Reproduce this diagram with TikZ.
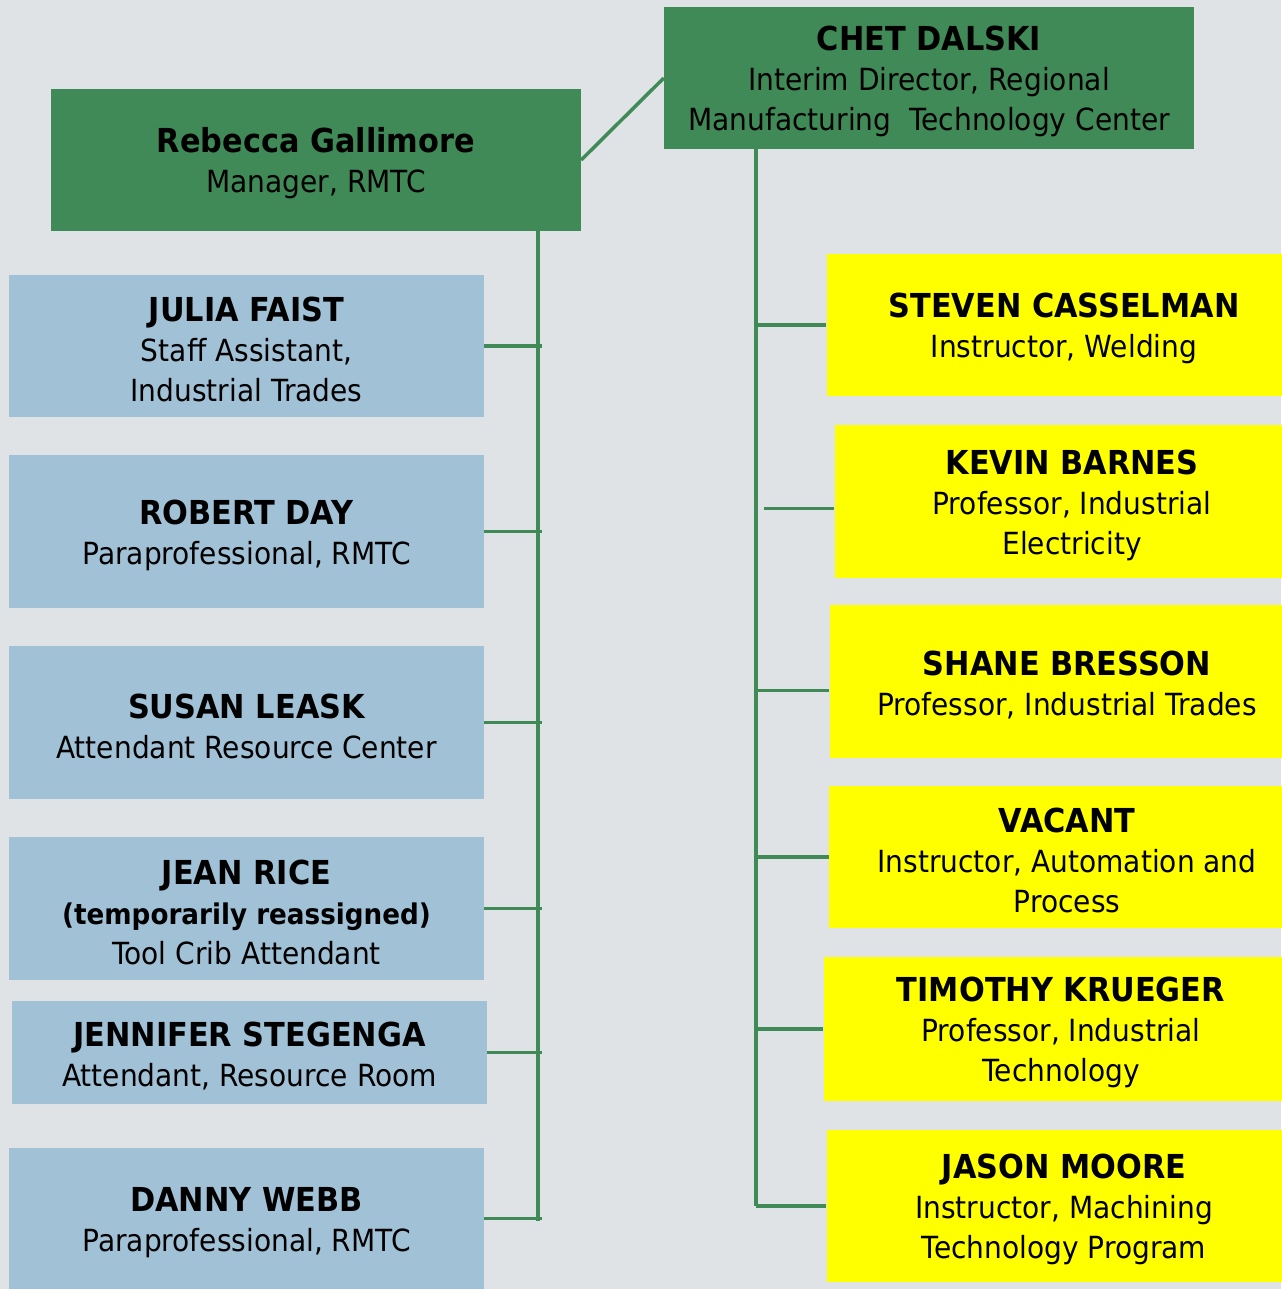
\documentclass[tikz,border=0pt]{standalone}
\usepackage{fontspec}
\setmainfont{DejaVu Sans}[FakeStretch=0.92]

\definecolor{bggray}{RGB}{223,227,230}
\definecolor{rmtcgreen}{RGB}{63,138,86}
\definecolor{staffblue}{RGB}{161,193,214}
\definecolor{facyellow}{RGB}{255,255,0}
\newcommand{\who}[2]{{\fontsize{33}{40}\selectfont\bfseries\rule{0pt}{32pt}#1}\\#2}

\begin{document}
\begin{tikzpicture}[x=1pt, y=-1pt,
    box/.style={inner sep=0pt, align=center, text=black, font=\fontsize{30.5}{40}\selectfont},
    head/.style={box, fill=rmtcgreen, minimum width=530pt, minimum height=142pt},
    staff/.style={box, fill=staffblue, minimum width=475pt},
    fac/.style={box, fill=facyellow, minimum width=475pt},
    link/.style={draw=rmtcgreen, line width=3.5pt}]
    \useasboundingbox (0,0) rectangle (1281,1289);
    \fill[bggray] (0,0) rectangle (1281,1289);

    % managers
    \node[head] (chet) at (929,78) {\who{CHET DALSKI}{Interim Director, Regional\\Manufacturing\ \ Technology Center}};
    \node[head] (rebecca) at (316,160) {\who{Rebecca Gallimore}{Manager, RMTC}};

    % staff
    \node[staff, minimum height=142pt] (julia) at (246.5,346) {\who{JULIA FAIST}{Staff Assistant,\\Industrial Trades}};
    \node[staff, minimum height=153pt] (robert) at (246.5,531.5) {\who{ROBERT DAY}{Paraprofessional, RMTC}};
    \node[staff, minimum height=153pt] (susan) at (246.5,722.5) {\who{SUSAN LEASK}{Attendant Resource Center}};
    \node[staff, minimum height=143pt] (jean) at (246.5,908.5) {\who{JEAN RICE}{{\fontsize{28.5}{40}\selectfont\bfseries (temporarily reassigned)}\\Tool Crib Attendant}};
    \node[staff, minimum height=103pt] (jennifer) at (249.5,1052.5) {\who{JENNIFER STEGENGA}{Attendant, Resource Room}};
    \node[staff, minimum height=141pt] (danny) at (246.5,1218.5) {\who{DANNY WEBB}{Paraprofessional, RMTC}};

    % faculty
    \node[fac, minimum height=142pt] (steven) at (1064,325) {\who{STEVEN CASSELMAN}{Instructor, Welding}};
    \node[fac, minimum height=153pt] (kevin) at (1072,501.5) {\who{KEVIN BARNES}{Professor, Industrial\\Electricity}};
    \node[fac, minimum height=153pt] (shane) at (1067,681.5) {\who{SHANE BRESSON}{Professor, Industrial Trades}};
    \node[fac, minimum height=142pt, minimum width=476pt] (vacant) at (1067,857) {\who{VACANT}{Instructor, Automation and\\Process}};
    \node[fac, minimum height=144pt] (timothy) at (1061,1029) {\who{TIMOTHY KRUEGER}{Professor, Industrial\\Technology}};
    \node[fac, minimum height=152pt] (jason) at (1064,1206) {\who{JASON MOORE}{Instructor, Machining\\Technology Program}};

    % connectors
    \coordinate (lspine) at (538,1221);
    \coordinate (rspine) at (756,1206);
    \draw[link] (rebecca.east) -- (chet.west);
    \draw[link] (lspine |- rebecca.south) -- (lspine);
    \draw[link] (rspine |- chet.south) -- (rspine);
    \foreach \n in {julia,robert,susan,jean,jennifer,danny}
        \draw[link] (\n.east) -- ([xshift=4pt]\n.east -| lspine);
    \foreach \n in {steven,vacant,timothy,jason}
        \draw[link] (rspine |- \n.west) -- (\n.west);
    \draw[link] ([shift={(8pt,-7pt)}]rspine |- kevin.west) -- ([yshift=-7pt]kevin.west);
    \draw[link] ([yshift=-9pt]rspine |- shane.west) -- ([yshift=-9pt]shane.west);
\end{tikzpicture}
\end{document}
